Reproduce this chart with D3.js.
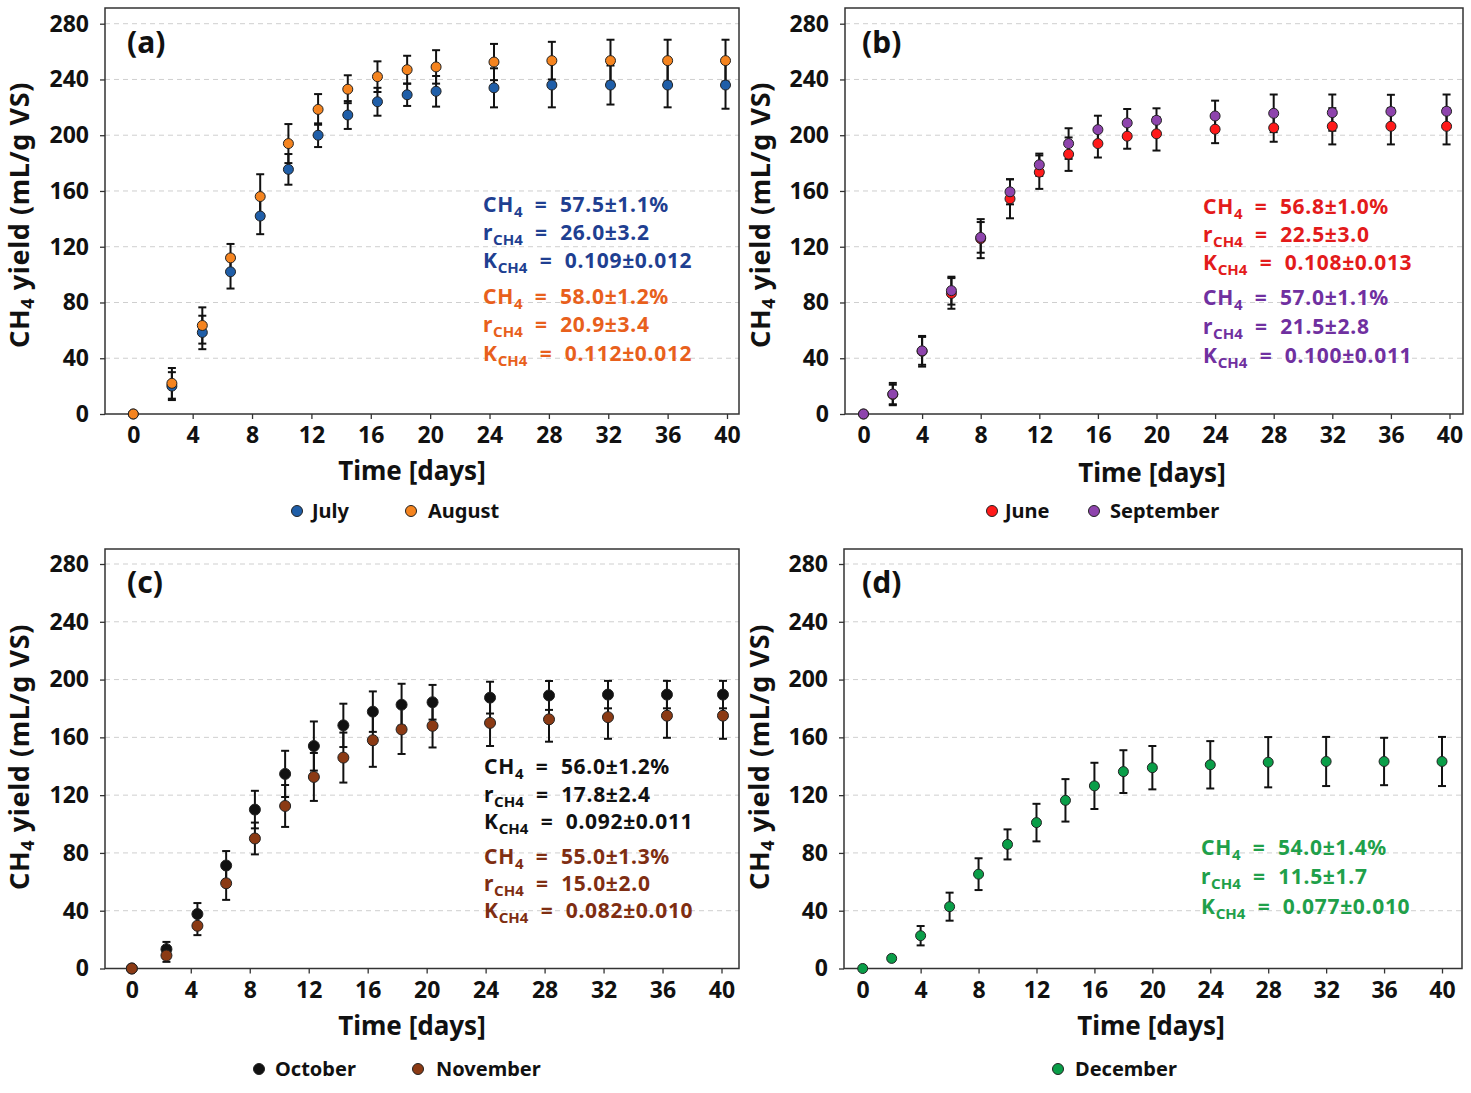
<!DOCTYPE html>
<html>
<head>
<meta charset="utf-8">
<script src="https://cdn.jsdelivr.net/npm/d3@7"></script>
<style>
  body { margin: 0; background: #fff; }
  svg text { font-family: "Noto Sans", sans-serif; font-weight: bold; }
</style>
</head>
<body>
<svg id="chart" width="1471" height="1093"></svg>
<script>
// tick labels
const xTicks = [0, 4, 8, 12, 16, 20, 24, 28, 32, 36, 40]
const yTicks = [0, 40, 80, 120, 160, 200, 240, 280]

// (a) July / August
const daysA = [0, 2.6, 4.65, 6.55, 8.55, 10.45, 12.45, 14.45, 16.45, 18.45, 20.4, 24.3, 28.2, 32.15, 36, 39.9]
const julyY = [0, 20, 58.5, 102, 142, 175.5, 200, 214.5, 224, 229, 231.5, 234, 236, 236, 236, 236]
const julyErr = [0, 10, 12, 12, 13, 11, 8.5, 10, 10, 8, 11, 14, 16, 14, 16, 17]
const augY = [0, 22, 63.5, 112, 156, 194, 218.5, 233, 242, 247, 249, 252.5, 253.5, 253.5, 253.5, 253.5]
const augErr = [0, 11, 13, 10, 16, 14, 11, 10, 11, 10, 12, 13, 13.5, 15, 15, 15]

// (b) June / September
const daysB = [0, 2, 4, 6, 8, 10, 12, 14, 16, 18, 20, 24, 28, 32, 36, 39.8]
const juneY = [0, 14, 45, 86.5, 125.8, 154.4, 173.5, 186.4, 194, 199.3, 201, 204.3, 205.3, 206.4, 206.4, 206.4]
const juneErr = [0, 7, 11, 11, 14, 14, 12, 12, 10, 9, 12, 10, 10, 13, 13, 13]
const sepY = [0, 14.3, 45.3, 88.5, 126.7, 159.4, 178.8, 194, 204, 208.8, 210.7, 213.8, 215.7, 216.2, 217, 217.2]
const sepErr = [0, 8, 10, 10, 11, 9, 8, 11, 10, 10, 8.6, 11, 13.5, 13, 12, 12]

// (c) October / November
const daysC = [0, 2.35, 4.45, 6.4, 8.35, 10.4, 12.35, 14.35, 16.35, 18.3, 20.4, 24.3, 28.3, 32.3, 36.3, 40.1]
const octY = [0, 13.4, 37.7, 71.3, 110, 134.7, 154, 168.3, 177.8, 182.6, 184.3, 187.5, 189, 189.6, 189.6, 189.6]
const octErr = [0, 5, 7.6, 10, 13, 16, 17, 15, 14, 14.5, 12, 11, 10, 9.5, 9.5, 9.5]
const novY = [0, 9, 29.6, 59, 90, 112.5, 132.6, 146, 158, 165.5, 168, 170, 172.5, 174, 175, 175]
const novErr = [0, 4.4, 6.5, 11.5, 11, 14.5, 16.6, 17.3, 18.4, 17, 15, 16, 15.5, 15, 15.3, 16]

// (d) December
const daysD = [0, 2, 4, 6, 8, 10, 12, 14, 16, 18, 20, 24, 28, 32, 36, 40]
const decY = [0, 7, 22.7, 42.8, 65.3, 85.9, 101, 116.4, 126.4, 136.3, 139, 141, 142.8, 143.3, 143.3, 143.3]
const decErr = [0, 0, 6.7, 9.7, 11, 10.4, 13, 14.7, 16, 14.8, 15, 16.4, 17.4, 17, 16.4, 17]

// fitted parameters: CH4 %, r_CH4, K_CH4
const julyStats = ["57.5\u00b11.1%", "26.0\u00b13.2", "0.109\u00b10.012"]
const augStats = ["58.0\u00b11.2%", "20.9\u00b13.4", "0.112\u00b10.012"]
const juneStats = ["56.8\u00b11.0%", "22.5\u00b13.0", "0.108\u00b10.013"]
const sepStats = ["57.0\u00b11.1%", "21.5\u00b12.8", "0.100\u00b10.011"]
const octStats = ["56.0\u00b11.2%", "17.8\u00b12.4", "0.092\u00b10.011"]
const novStats = ["55.0\u00b11.3%", "15.0\u00b12.0", "0.082\u00b10.010"]
const decStats = ["54.0\u00b11.4%", "11.5\u00b11.7", "0.077\u00b10.010"]

const svg = d3.select("#chart")
svg.append("rect").attr("width", 1471).attr("height", 1093).attr("fill", "#fff")

function drawPanel(p) {
    const g = svg.append("g")
    const x = d3.scaleLinear().domain([0, 40]).range([p.x0, p.x40])
    const y = d3.scaleLinear().domain([0, 280]).range([p.bottom, p.y280])

    // gridlines
    g.selectAll(".grid").data(yTicks.filter(d => d > 0)).enter().append("line")
        .attr("x1", p.left).attr("x2", p.right)
        .attr("y1", d => y(d)).attr("y2", d => y(d))
        .attr("stroke", "#cfcfcf").attr("stroke-width", 1)
        .attr("stroke-dasharray", "5,4")

    // axes
    const xa = g.append("g").attr("transform", "translate(0," + p.bottom + ")")
        .call(d3.axisBottom(x).tickValues(xTicks).tickSize(5).tickPadding(8))
    const ya = g.append("g").attr("transform", "translate(" + p.left + ",0)")
        .call(d3.axisLeft(y).tickValues(yTicks).tickSize(5).tickPadding(11))
    ;[xa, ya].forEach(a => {
        a.select(".domain").remove()
        a.selectAll("line").attr("stroke", "#333").attr("stroke-width", 1.3)
        a.selectAll("text").attr("fill", "#111").style("font-size", "23px")
            .style("font-family", "'Noto Sans', sans-serif").style("font-weight", "bold")
    })

    // frame
    g.append("rect")
        .attr("x", p.left).attr("y", p.top)
        .attr("width", p.right - p.left).attr("height", p.bottom - p.top)
        .attr("fill", "none").attr("stroke", "#333").attr("stroke-width", 1.5)

    // error bars, then markers
    p.series.forEach(s => {
        const rows = s.y.map((v, i) => ({ d: p.days[i], v: v, e: s.err[i] })).filter(r => r.e > 0)
        const eb = g.append("g").attr("stroke", "#111").attr("stroke-width", 2)
        eb.selectAll(".v").data(rows).enter().append("line")
            .attr("x1", r => x(r.d)).attr("x2", r => x(r.d))
            .attr("y1", r => y(r.v - r.e)).attr("y2", r => y(r.v + r.e))
        eb.selectAll(".t").data(rows).enter().append("line")
            .attr("x1", r => x(r.d) - 4).attr("x2", r => x(r.d) + 4)
            .attr("y1", r => y(r.v + r.e)).attr("y2", r => y(r.v + r.e))
        eb.selectAll(".b").data(rows).enter().append("line")
            .attr("x1", r => x(r.d) - 4).attr("x2", r => x(r.d) + 4)
            .attr("y1", r => y(r.v - r.e)).attr("y2", r => y(r.v - r.e))
    })
    p.series.forEach(s => {
        g.append("g").selectAll("circle").data(s.y).enter().append("circle")
            .attr("cx", (v, i) => x(p.days[i])).attr("cy", v => y(v))
            .attr("r", p.r)
            .attr("fill", s.color).attr("stroke", "#222").attr("stroke-width", 1)
    })

    // panel label
    g.append("text").attr("x", p.labelX).attr("y", p.labelY)
        .style("font-size", "30px").attr("fill", "#111").text(p.label)

    // axis titles
    g.append("text").attr("x", p.titleX).attr("y", p.titleY)
        .attr("text-anchor", "middle").style("font-size", "26px").attr("fill", "#111")
        .text("Time [days]")
    const yt = g.append("text")
        .attr("transform", "translate(" + p.yTitleX + "," + p.yTitleY + ") rotate(-90)")
        .attr("text-anchor", "middle").style("font-size", "27px").attr("fill", "#111")
        .style("letter-spacing", "0.6px")
    yt.append("tspan").text("CH")
    yt.append("tspan").attr("dy", 5).style("font-size", "18px").text("4")
    yt.append("tspan").attr("dy", -5).text(" yield (mL/g VS)")

    // annotations
    let li = 0
    p.series.forEach(s => {
        const names = [["CH", "4"], ["r", "CH4"], ["K", "CH4"]]
        names.forEach((nm, k) => {
            const t = g.append("text").attr("x", p.annX).attr("y", p.annY[li])
                .attr("fill", s.textColor).style("font-size", "21px").style("white-space", "pre")
                .style("letter-spacing", "0.7px")
            t.append("tspan").text(nm[0])
            t.append("tspan").attr("dy", 5).style("font-size", "15px").style("letter-spacing", "0px").text(nm[1])
            t.append("tspan").attr("dy", -5).text("  =  " + s.stats[k])
            li++
        })
    })

    // legend
    p.series.forEach((s, i) => {
        const lg = p.legend[i]
        g.append("circle").attr("cx", lg.dot).attr("cy", p.legendY)
            .attr("r", 5.5).attr("fill", s.color).attr("stroke", "#222").attr("stroke-width", 1)
        g.append("text").attr("x", lg.text).attr("y", p.legendY + 7)
            .style("font-size", "20px").attr("fill", "#111").text(s.name)
    })
}

drawPanel({
    left: 105, right: 739, top: 8, bottom: 414, x0: 133.3, x40: 727, y280: 23.7, r: 5,
    days: daysA, label: "(a)", labelX: 127, labelY: 53,
    titleX: 412, titleY: 480, yTitleX: 29, yTitleY: 215,
    annX: 483, annY: [212, 240, 268, 304, 332, 361],
    legendY: 511, legend: [{ dot: 297, text: 312 }, { dot: 411, text: 428 }],
    series: [
        { name: "July", y: julyY, err: julyErr, color: "#1f5ea8", textColor: "#1f3f91", stats: julyStats },
        { name: "August", y: augY, err: augErr, color: "#f5841f", textColor: "#e8601c", stats: augStats }
    ]
})
drawPanel({
    left: 845, right: 1463, top: 8, bottom: 414, x0: 863.5, x40: 1449.5, y280: 23.7, r: 5,
    days: daysB, label: "(b)", labelX: 862, labelY: 53,
    titleX: 1152, titleY: 482, yTitleX: 770, yTitleY: 215,
    annX: 1203, annY: [214, 242, 270, 305, 334, 363],
    legendY: 511, legend: [{ dot: 992, text: 1005 }, { dot: 1094, text: 1110 }],
    series: [
        { name: "June", y: juneY, err: juneErr, color: "#ff1a1a", textColor: "#e31b1b", stats: juneStats },
        { name: "September", y: sepY, err: sepErr, color: "#8e44ad", textColor: "#7030a0", stats: sepStats }
    ]
})
drawPanel({
    left: 105, right: 739, top: 549, bottom: 968.5, x0: 131.8, x40: 721.5, y280: 564, r: 5.5,
    days: daysC, label: "(c)", labelX: 127, labelY: 593,
    titleX: 412, titleY: 1035, yTitleX: 29, yTitleY: 757,
    annX: 484, annY: [774, 802, 829, 864, 891, 918],
    legendY: 1069, legend: [{ dot: 259, text: 275 }, { dot: 418, text: 436 }],
    series: [
        { name: "October", y: octY, err: octErr, color: "#111111", textColor: "#111111", stats: octStats },
        { name: "November", y: novY, err: novErr, color: "#8b3a14", textColor: "#7f2e12", stats: novStats }
    ]
})
drawPanel({
    left: 844, right: 1462, top: 549, bottom: 968.5, x0: 862.7, x40: 1442, y280: 564, r: 5,
    days: daysD, label: "(d)", labelX: 862, labelY: 593,
    titleX: 1151, titleY: 1035, yTitleX: 769, yTitleY: 757,
    annX: 1201, annY: [855, 884, 914],
    legendY: 1069, legend: [{ dot: 1058, text: 1075 }],
    series: [
        { name: "December", y: decY, err: decErr, color: "#0a9e48", textColor: "#1fa04a", stats: decStats }
    ]
})
</script>
</body>
</html>
